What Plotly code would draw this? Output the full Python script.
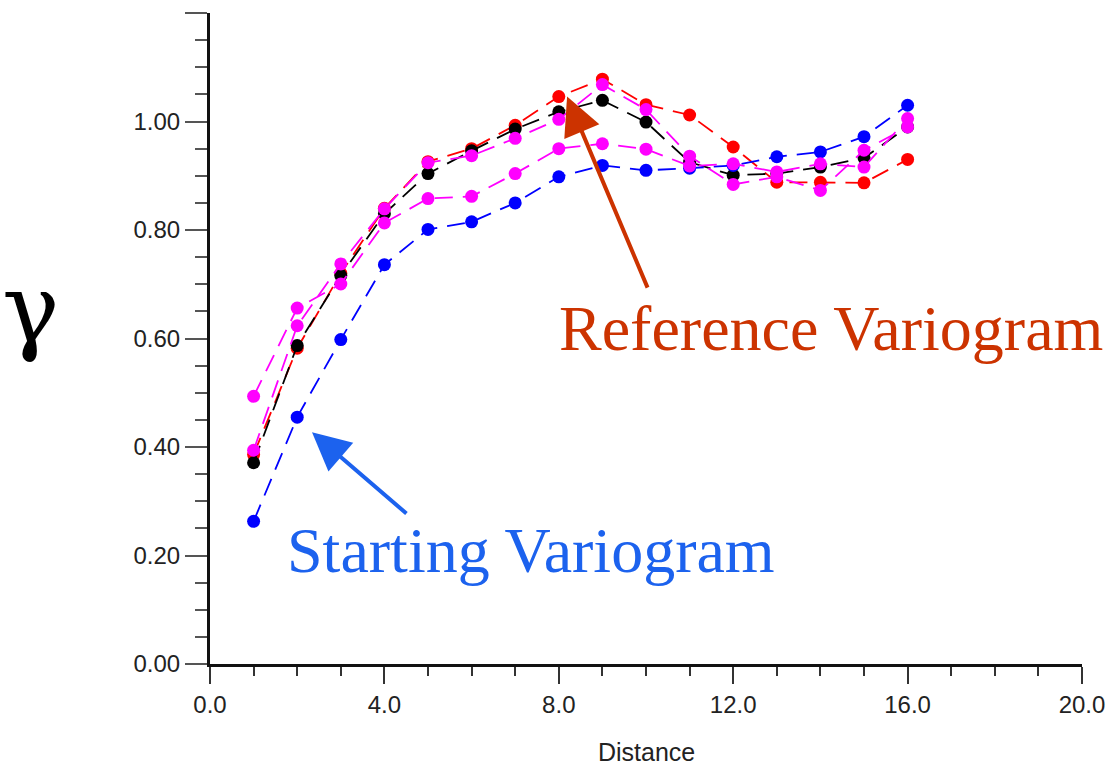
import plotly.graph_objects as go

distance = list(range(1, 17))

reference_red = [0.386, 0.582, 0.720, 0.840, 0.926, 0.950, 0.993, 1.046, 1.078, 1.031,
                 1.012, 0.953, 0.888, 0.888, 0.887, 0.930]
black_series = [0.371, 0.587, 0.716, 0.830, 0.904, 0.946, 0.986, 1.018, 1.039, 0.999,
                0.925, 0.901, 0.904, 0.916, 0.933, 0.990]
starting_blue = [0.263, 0.455, 0.598, 0.736, 0.801, 0.815, 0.850, 0.898, 0.919, 0.910,
                 0.914, 0.919, 0.935, 0.944, 0.972, 1.030]
magenta_a = [0.394, 0.6235, 0.7375, 0.839, 0.924, 0.937, 0.969, 1.004, 1.068, 1.022,
             0.936, 0.884, 0.898, 0.873, 0.947, 0.990]
magenta_b = [0.4935, 0.656, 0.7005, 0.813, 0.858, 0.862, 0.904, 0.950, 0.959, 0.949,
             0.918, 0.922, 0.907, 0.922, 0.916, 1.0055]

x_ticks = [0, 4, 8, 12, 16, 20]
x_labels = ["0.0", "4.0", "8.0", "12.0", "16.0", "20.0"]
y_ticks = [0.0, 0.2, 0.4, 0.6, 0.8, 1.0, 1.2]
y_labels = ["0.00", "0.20", "0.40", "0.60", "0.80", "1.00", ""]

series = [
    ("Reference", reference_red, "#ff0000"),
    ("Black", black_series, "#000000"),
    ("Starting", starting_blue, "#0000ff"),
    ("Magenta B", magenta_b, "#ff00ff"),
    ("Magenta A", magenta_a, "#ff00ff"),
]

fig = go.Figure()
for name, vals, col in series:
    fig.add_trace(go.Scatter(
        x=distance, y=vals, name=name, mode="lines+markers",
        line=dict(color=col, width=1.8, dash="18px,10px"),
        marker=dict(color=col, size=13),
        showlegend=False,
    ))

tickfont = dict(family="Liberation Sans, Arial, sans-serif", size=24, color="#222222")

fig.update_layout(
    width=1116, height=771,
    margin=dict(l=210, r=34, t=13, b=107),
    paper_bgcolor="white", plot_bgcolor="white",
    xaxis=dict(
        range=[0, 20], tickvals=x_ticks, ticktext=x_labels,
        showgrid=False, zeroline=False,
        showline=True, linecolor="#111111", linewidth=3,
        ticks="outside", ticklen=17, tickwidth=2, tickcolor="#333333",
        minor=dict(dtick=1, ticks="outside", ticklen=9, tickwidth=2, tickcolor="#333333", showgrid=False),
        tickfont=tickfont,
    ),
    yaxis=dict(
        range=[0, 1.2], tickvals=y_ticks, ticktext=y_labels,
        showgrid=False, zeroline=False,
        showline=True, linecolor="#111111", linewidth=3,
        ticks="outside", ticklen=22, tickwidth=2, tickcolor="#555555",
        minor=dict(dtick=0.05, ticks="outside", ticklen=12, tickwidth=2, tickcolor="#555555", showgrid=False),
        tickfont=tickfont,
    ),
)

annotations = [
    dict(text="Distance", xref="paper", yref="paper", x=0.501, y=-0.135,
         xanchor="center", yanchor="middle", showarrow=False,
         font=dict(family="Liberation Sans, Arial, sans-serif", size=25, color="#222222")),
    dict(text="γ", xref="paper", yref="paper", x=-0.206, y=0.545,
         xanchor="center", yanchor="middle", showarrow=False,
         font=dict(family="DejaVu Serif, serif", size=96, color="#000000")),
    dict(text="Reference Variogram", xref="x", yref="y", x=14.24, y=0.619,
         xanchor="center", yanchor="middle", showarrow=False,
         font=dict(family="Liberation Serif, Times New Roman, serif", size=64, color="#cc3300")),
    dict(text="Starting Variogram", xref="x", yref="y", x=7.37, y=0.209,
         xanchor="center", yanchor="middle", showarrow=False,
         font=dict(family="Liberation Serif, Times New Roman, serif", size=64, color="#1c62ee")),
    dict(text="", xref="x", yref="y", x=8.19, y=1.046, axref="x", ayref="y",
         ax=10.05, ay=0.691, showarrow=True, arrowhead=2, arrowsize=1.9,
         arrowwidth=4, arrowcolor="#cc3300"),
    dict(text="", xref="x", yref="y", x=2.34, y=0.427, axref="x", ayref="y",
         ax=4.54, ay=0.275, showarrow=True, arrowhead=2, arrowsize=1.9,
         arrowwidth=4, arrowcolor="#1c62ee"),
]
fig.update_layout(annotations=annotations)

fig.write_html("out.html")
